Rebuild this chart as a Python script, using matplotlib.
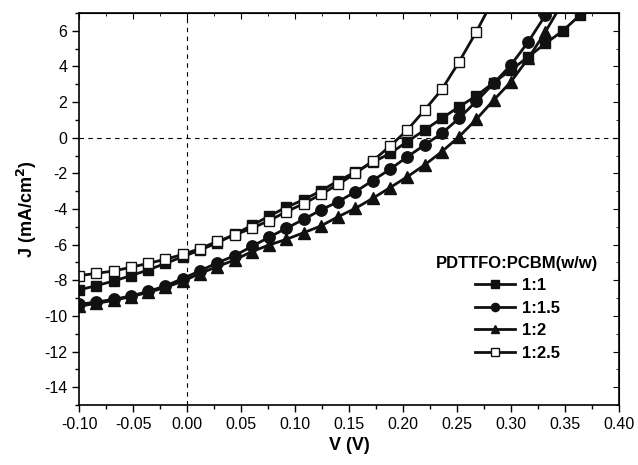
import matplotlib
matplotlib.use("Agg")
import matplotlib.pyplot as plt
from matplotlib.ticker import MultipleLocator

plt.rcParams['font.family'] = ['Liberation Sans', 'DejaVu Sans']
plt.rcParams['axes.unicode_minus'] = False

voltage = [-0.100, -0.084, -0.068, -0.052, -0.036, -0.020, -0.004, 0.012, 0.028, 0.044,
           0.060, 0.076, 0.092, 0.108, 0.124, 0.140, 0.156, 0.172, 0.188, 0.204,
           0.220, 0.236, 0.252, 0.268, 0.284, 0.300, 0.316, 0.332, 0.348, 0.364, 0.380]

j_1_1 = [-8.54, -8.30, -8.04, -7.74, -7.42, -7.05, -6.68, -6.30, -5.90, -5.42,
         -4.92, -4.40, -3.90, -3.48, -2.98, -2.42, -1.92, -1.38, -0.88, -0.22,
         0.43, 1.09, 1.74, 2.35, 3.10, 3.80, 4.54, 5.29, 6.00, 6.88, 7.80]

j_1_15 = [-9.35, -9.22, -9.07, -8.88, -8.62, -8.32, -7.90, -7.47, -7.02, -6.62,
          -6.10, -5.58, -5.08, -4.58, -4.05, -3.59, -3.03, -2.40, -1.77, -1.07,
          -0.41, 0.25, 1.09, 2.05, 3.05, 4.08, 5.38, 6.88, 8.40]

j_1_2 = [-9.45, -9.30, -9.12, -8.92, -8.68, -8.40, -8.05, -7.62, -7.23, -6.86,
         -6.39, -6.02, -5.70, -5.33, -4.95, -4.43, -3.96, -3.40, -2.80, -2.19,
         -1.53, -0.78, 0.06, 1.04, 2.11, 3.14, 4.45, 5.95, 7.60]

j_1_25 = [-7.74, -7.61, -7.48, -7.27, -7.05, -6.82, -6.55, -6.22, -5.82, -5.46,
          -5.08, -4.65, -4.15, -3.70, -3.18, -2.61, -2.00, -1.30, -0.47, 0.43,
          1.55, 2.71, 4.26, 5.95, 7.80]

labels = ["1:1", "1:1.5", "1:2", "1:2.5"]
legend_title = "PDTTFO:PCBM(w/w)"
x_ticks = [-0.10, -0.05, 0.00, 0.05, 0.10, 0.15, 0.20, 0.25, 0.30, 0.35, 0.40]
y_ticks = [-14, -12, -10, -8, -6, -4, -2, 0, 2, 4, 6]

fig = plt.figure(figsize=(6.38, 4.65), dpi=100)
ax = fig.add_axes([0.124, 0.129, 0.846, 0.843])

series = [j_1_1, j_1_15, j_1_2, j_1_25]
markers = ['s', 'o', '^', 's']
faces = ['#111111', '#111111', '#111111', 'white']
sizes = [7.2, 8.2, 8.4, 7.6]
for ys, lab, m, fc, ms in zip(series, labels, markers, faces, sizes):
    ax.plot(voltage[:len(ys)], ys, color='#111111', lw=2.0, marker=m, ms=ms,
            mfc=fc, mec='#111111', mew=1.0, label=lab, clip_on=True)

ax.axhline(0, color='black', lw=0.8, ls=(0, (4, 4)), zorder=0)
ax.axvline(0, color='black', lw=0.8, ls=(0, (4, 4)), zorder=0)

ax.set_xlim(-0.10, 0.40)
ax.set_ylim(-15, 7)
ax.set_xticks(x_ticks)
ax.set_xticklabels([f"{t:.2f}" for t in x_ticks])
ax.set_yticks(y_ticks)
ax.set_yticklabels([str(t) for t in y_ticks])
ax.xaxis.set_minor_locator(MultipleLocator(0.025))
ax.yaxis.set_minor_locator(MultipleLocator(1))
ax.tick_params(which='both', direction='out', labelsize=11.5, top=False, right=False)
ax.tick_params(which='major', length=5, width=1.0)
ax.tick_params(which='minor', length=3, width=1.0)
for s in ax.spines.values():
    s.set_linewidth(1.2)

# inner ticks on top and right
ax2 = ax.secondary_xaxis('top')
ax2.set_xticks(x_ticks)
ax2.xaxis.set_minor_locator(MultipleLocator(0.025))
ax2.tick_params(which='both', direction='in', labeltop=False)
ax2.tick_params(which='major', length=4)
ax2.tick_params(which='minor', length=2)
ax3 = ax.secondary_yaxis('right')
ax3.set_yticks(y_ticks)
ax3.yaxis.set_minor_locator(MultipleLocator(1))
ax3.tick_params(which='both', direction='in', labelright=False)
ax3.tick_params(which='major', length=4)
ax3.tick_params(which='minor', length=2)

ax.set_xlabel("V (V)", fontsize=13, fontweight='bold', labelpad=4)
ax.set_ylabel("J (mA/cm$^\\mathbf{2}$)", fontsize=13, fontweight='bold', labelpad=4)

leg = ax.legend(title=legend_title, loc='lower right', bbox_to_anchor=(0.99, 0.075),
                frameon=False, fontsize=12, handlelength=2.4, handletextpad=0.4,
                labelspacing=0.45, markerscale=0.72,
                title_fontproperties={'weight': 'bold', 'size': 12})
for t in leg.get_texts():
    t.set_fontweight('bold')

fig.savefig("out.png", dpi=100)
